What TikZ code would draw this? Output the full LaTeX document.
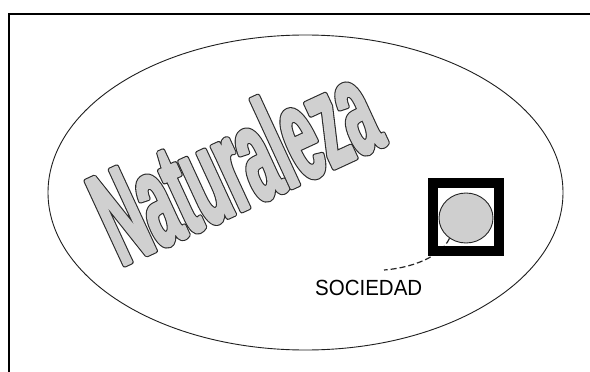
\documentclass[tikz,border=0pt]{standalone}
\usepackage{fontspec}
\setmainfont{Liberation Sans}
\newfontfamily\natfont{Liberation Sans}[FakeStretch=0.43]
\usetikzlibrary{calc,shapes.geometric}
\definecolor{wordgray}{HTML}{D0D0D0}
\definecolor{edgegray}{HTML}{2A2A2A}
\definecolor{discgray}{HTML}{CFCFCF}
\newcommand\strokedword[2]{\special{pdf:literal direct 2 Tr #1 w 1 j}#2\special{pdf:literal direct 0 Tr}}
\begin{document}
\begin{tikzpicture}[x=1pt,y=-1pt,
  natword/.style={inner sep=0pt, anchor=base west,
    font=\natfont\fontsize{135pt}{135pt}\selectfont\bfseries, rotate=24.8},
  frameline/.style={line width=2pt, black},
  outerellipse/.style={line width=0.9pt, draw=black!88},
  sqbox/.style={draw=black, line width=10pt, minimum width=66pt, minimum height=68pt, inner sep=0pt},
  disc/.style={ellipse, draw=black!85, line width=0.9pt, fill=discgray, minimum width=54pt, minimum height=50pt, inner sep=0pt},
  leader/.style={line width=1.2pt, black!85, dash pattern=on 6pt off 3pt},
  labeltext/.style={inner sep=0pt, anchor=base, font=\fontsize{20.5pt}{20.5pt}\selectfont, yscale=1.07}
]
\useasboundingbox (0,0) rectangle (590,372);
\fill[white] (0,0) rectangle (590,372);
% frame
\draw[frameline] (9,373) -- (9,14) -- (591,14);
% big ellipse
\draw[outerellipse] (305.5,192.5) ellipse [x radius=257.5pt, y radius=157.5pt];
% Naturaleza word art: dark outline layer, then grey body
\node[natword, text=edgegray] (natout) at (121,267) {\strokedword{4.6}{Naturaleza}};
\node[natword, text=wordgray] (nat) at (121,267) {\strokedword{2.4}{Naturaleza}};
% society
\node[disc] (soc) at (466,218) {};
\coordinate (lend) at (384,270);
\draw[leader] (soc.231) .. controls (440,258) and (410,268) .. (lend);
\node[sqbox] (box) at (466,217) {};
\node[labeltext] (lbl) at (368.7,295.7) {SOCIEDAD};
\end{tikzpicture}
\end{document}
